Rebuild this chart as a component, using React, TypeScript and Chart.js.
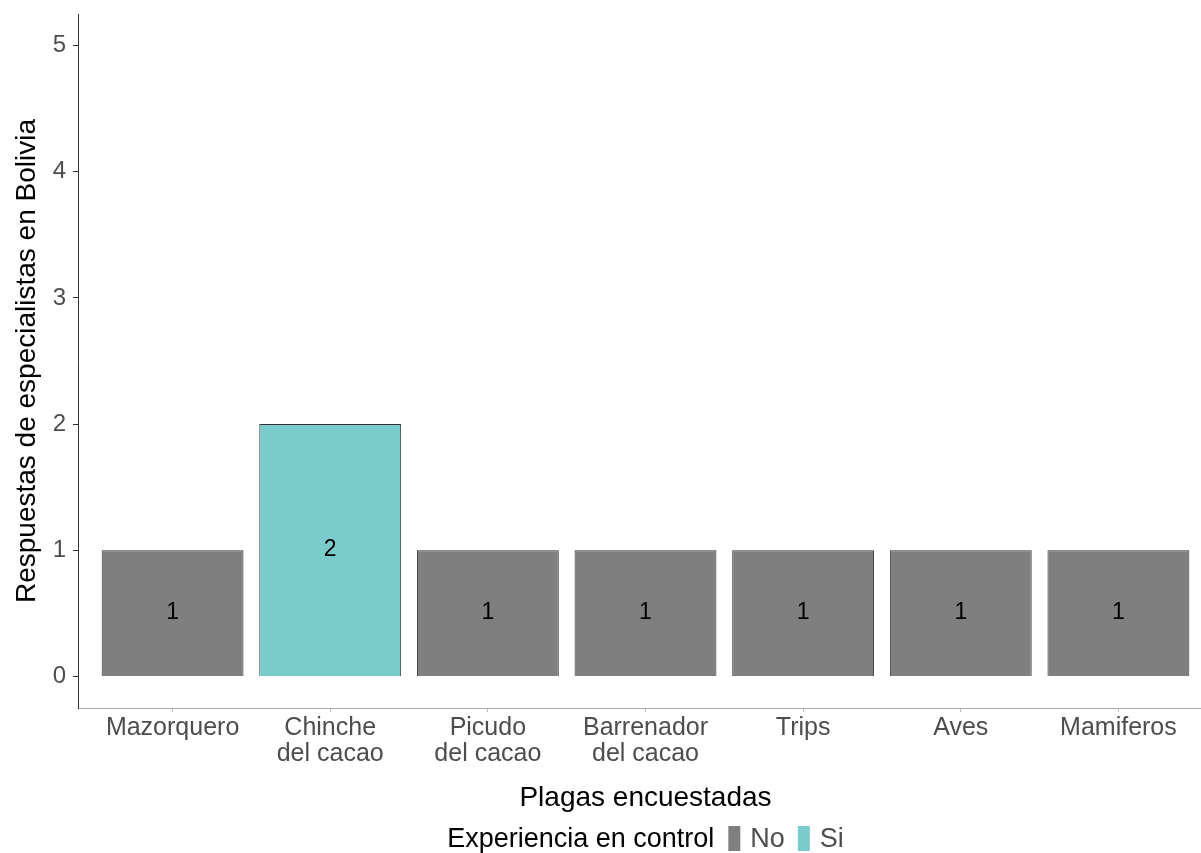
import React, { useEffect, useRef } from "react";
import { Chart, registerables } from "chart.js";

Chart.register(...registerables);

// ---- Data ----
const categories: string[][] = [
  ["Mazorquero"],
  ["Chinche", "del cacao"],
  ["Picudo", "del cacao"],
  ["Barrenador", "del cacao"],
  ["Trips"],
  ["Aves"],
  ["Mamiferos"],
];
const responses: number[] = [1, 2, 1, 1, 1, 1, 1];
const experience: string[] = ["No", "Si", "No", "No", "No", "No", "No"];
const groupLevels: string[] = ["No", "Si"];
const groupColors: string[] = ["#7F7F7F", "#7ACCCC"];
const yTickValues: number[] = [0, 1, 2, 3, 4, 5];
const xTitle = "Plagas encuestadas";
const yTitle = "Respuestas de especialistas en Bolivia";
const legendTitle = "Experiencia en control";

const FONT = '"Liberation Sans", Arial, Helvetica, sans-serif';

const barLabelPlugin = {
  id: "barLabels",
  afterDatasetsDraw(chart: any) {
    const ctx = chart.ctx;
    const meta = chart.getDatasetMeta(0);
    ctx.save();
    ctx.font = `23px ${FONT}`;
    ctx.fillStyle = "#000000";
    ctx.textAlign = "center";
    ctx.textBaseline = "middle";
    meta.data.forEach((el: any, i: number) => {
      const { x, y, base } = el.getProps(["x", "y", "base"], true);
      ctx.fillText(String(responses[i]), x, (y + base) / 2);
    });
    ctx.restore();
  },
};

const legendPlugin = {
  id: "ggLegend",
  afterDraw(chart: any) {
    const ctx = chart.ctx;
    const area = chart.chartArea;
    ctx.save();
    ctx.textBaseline = "alphabetic";
    ctx.textAlign = "left";
    const baseline = 847;
    const boxTop = 826;
    const boxH = 25;
    const boxW = 12;
    const titleFont = `27px ${FONT}`;
    const labelFont = `27px ${FONT}`;
    ctx.font = titleFont;
    const titleW = ctx.measureText(legendTitle).width;
    ctx.font = labelFont;
    const labelWs = groupLevels.map((l) => ctx.measureText(l).width);
    const gapTitle = 14;
    const gapBox = 10;
    const gapItem = 13;
    const total =
      titleW + gapTitle +
      labelWs.reduce((s, w) => s + boxW + gapBox + w, 0) +
      gapItem * (groupLevels.length - 1);
    let x = (area.left + area.right) / 2 - total / 2;
    ctx.font = titleFont;
    ctx.fillStyle = "#000000";
    ctx.fillText(legendTitle, x, baseline);
    x += titleW + gapTitle;
    ctx.font = labelFont;
    groupLevels.forEach((lvl, i) => {
      ctx.fillStyle = groupColors[i];
      ctx.fillRect(x, boxTop, boxW, boxH);
      x += boxW + gapBox;
      ctx.fillStyle = "#4D4D4D";
      ctx.fillText(lvl, x, baseline);
      x += labelWs[i] + gapItem;
    });
    ctx.restore();
  },
};

export default function App() {
  const canvasRef = useRef<HTMLCanvasElement | null>(null);

  useEffect(() => {
    document.body.style.margin = "0";
    const canvas = canvasRef.current;
    if (!canvas) return;
    const data = responses.map((v, i) => ({ x: i + 1, y: v }));
    const colors = experience.map((e) => groupColors[groupLevels.indexOf(e)]);

    const chart = new Chart(canvas, {
      type: "bar",
      data: {
        datasets: [
          {
            label: "Respuestas",
            data: data as any,
            backgroundColor: colors,
            borderColor: "#333333",
            borderWidth: 1,
            barPercentage: 0.9,
            categoryPercentage: 1,
          },
        ],
      },
      options: {
        responsive: false,
        animation: false,
        devicePixelRatio: 1,
        layout: { padding: { left: 0, right: 17, top: 14, bottom: 0 } },
        plugins: {
          legend: { display: false },
          tooltip: { enabled: false },
        },
        scales: {
          x: {
            type: "linear",
            min: 0.4,
            max: 7.6,
            offset: false,
            afterBuildTicks: (axis: any) => {
              axis.ticks = categories.map((_, i) => ({ value: i + 1 }));
            },
            afterFit: (axis: any) => {
              axis.height = 145;
              axis.paddingLeft = 0;
              axis.paddingRight = 0;
            },
            grid: {
              offset: false,
              drawOnChartArea: false,
              drawTicks: true,
              tickLength: 4,
              color: "#BBBBBB",
            },
            border: { display: true, color: "#AAAAAA", width: 1 },
            ticks: {
              autoSkip: false,
              maxRotation: 0,
              padding: 3,
              color: "#4D4D4D",
              font: { family: FONT, size: 25, lineHeight: "26px" as any },
              callback: (value: any) => categories[Math.round(Number(value)) - 1] ?? "",
            },
            title: {
              display: true,
              text: xTitle,
              color: "#000000",
              font: { family: FONT, size: 28, lineHeight: 1.2 },
              padding: { top: 0, bottom: 38 },
            },
          },
          y: {
            type: "linear",
            min: -0.25,
            max: 5.25,
            afterBuildTicks: (axis: any) => {
              axis.ticks = yTickValues.map((v) => ({ value: v }));
            },
            afterFit: (axis: any) => {
              axis.width = 78;
              axis.paddingTop = 0;
              axis.paddingBottom = 0;
            },
            grid: {
              drawOnChartArea: false,
              drawTicks: true,
              tickLength: 5,
              color: "#333333",
            },
            border: { display: true, color: "#333333", width: 1 },
            ticks: {
              padding: 7,
              color: "#4D4D4D",
              font: { family: FONT, size: 24 },
              callback: (value: any) => String(value),
            },
            title: {
              display: true,
              text: yTitle,
              color: "#000000",
              font: { family: FONT, size: 28, lineHeight: 1.2 },
              padding: { top: 10, bottom: 0 },
            },
          },
        },
      },
      plugins: [barLabelPlugin, legendPlugin],
    });

    return () => {
      chart.destroy();
    };
  }, []);

  return (
    <div style={{ width: 1201, height: 853, overflow: "hidden", position: "relative", background: "#FFFFFF" }}>
      <canvas ref={canvasRef} width={1230} height={853} style={{ display: "block" }} />
    </div>
  );
}
